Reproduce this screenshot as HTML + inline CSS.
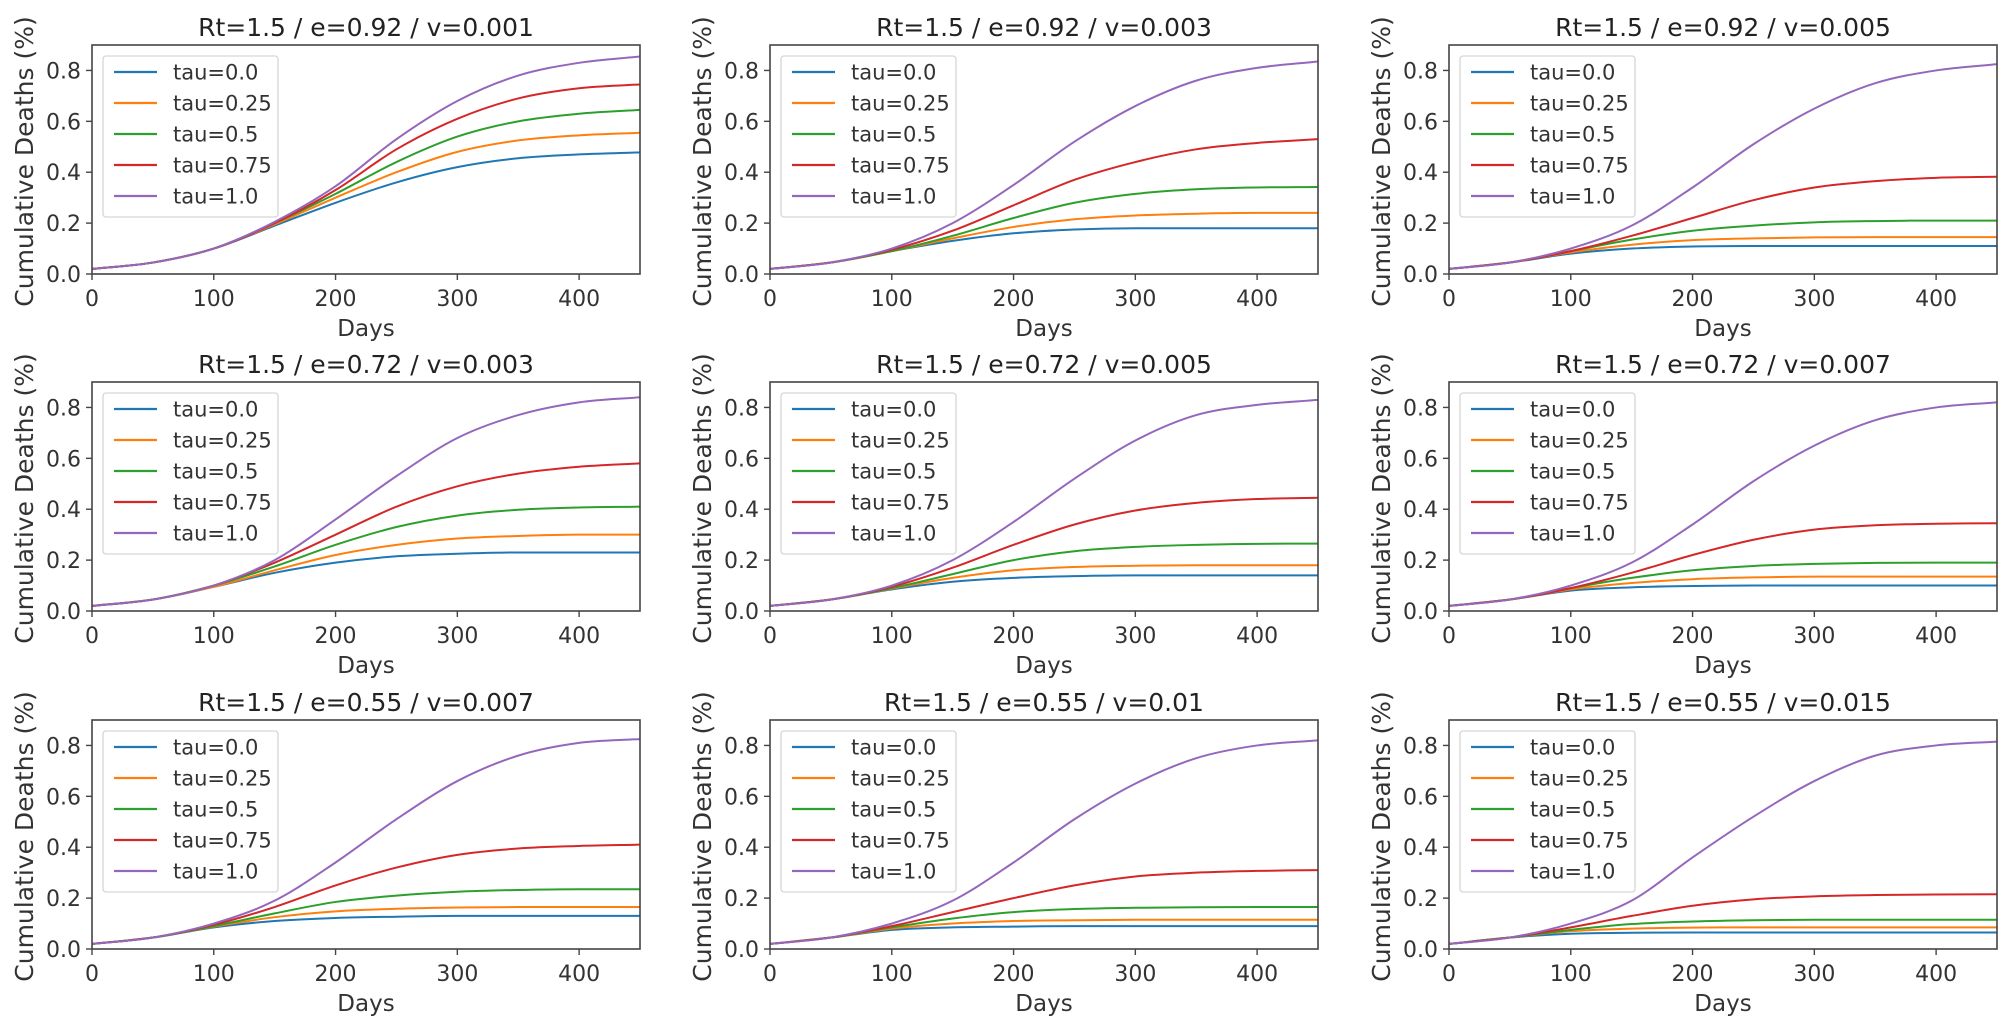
<!DOCTYPE html>
<html><head><meta charset="utf-8"><style>
html,body{margin:0;padding:0;background:#fff;}
svg{display:block;font-family:"DejaVu Sans","Liberation Sans",sans-serif;}
</style></head><body>
<svg id="fig" width="2013" height="1027" viewBox="0 0 2013 1027" xmlns="http://www.w3.org/2000/svg"></svg>
<script>
const days = [0,50,100,150,200,250,300,350,400,450];
const taus = ["tau=0.0","tau=0.25","tau=0.5","tau=0.75","tau=1.0"];
const colors = ["#1f77b4","#ff7f0e","#2ca02c","#d62728","#9467bd"];
const titles = ["Rt=1.5 / e=0.92 / v=0.001","Rt=1.5 / e=0.92 / v=0.003","Rt=1.5 / e=0.92 / v=0.005",
"Rt=1.5 / e=0.72 / v=0.003","Rt=1.5 / e=0.72 / v=0.005","Rt=1.5 / e=0.72 / v=0.007",
"Rt=1.5 / e=0.55 / v=0.007","Rt=1.5 / e=0.55 / v=0.01","Rt=1.5 / e=0.55 / v=0.015"];
const xTicks = [0,100,200,300,400];
const yTicks = [0.0,0.2,0.4,0.6,0.8];
const yTickLabels = ["0.0","0.2","0.4","0.6","0.8"];
const p1 = [[0.02,0.045,0.1,0.19,0.28,0.36,0.42,0.455,0.47,0.478],
[0.02,0.045,0.1,0.195,0.3,0.4,0.48,0.525,0.545,0.555],
[0.02,0.045,0.1,0.2,0.315,0.44,0.54,0.6,0.63,0.645],
[0.02,0.045,0.1,0.2,0.33,0.49,0.61,0.69,0.73,0.745],
[0.02,0.045,0.1,0.205,0.345,0.53,0.68,0.78,0.83,0.855]];
const p2 = [[0.02,0.045,0.09,0.13,0.16,0.175,0.18,0.18,0.18,0.18],
[0.02,0.045,0.09,0.14,0.185,0.215,0.23,0.237,0.24,0.24],
[0.02,0.045,0.09,0.15,0.22,0.28,0.315,0.333,0.34,0.342],
[0.02,0.045,0.095,0.17,0.27,0.37,0.44,0.49,0.515,0.53],
[0.02,0.045,0.1,0.2,0.35,0.52,0.66,0.76,0.81,0.835]];
const p3 = [[0.02,0.045,0.08,0.1,0.108,0.11,0.11,0.11,0.11,0.11],
[0.02,0.045,0.085,0.115,0.133,0.14,0.144,0.145,0.145,0.145],
[0.02,0.045,0.09,0.135,0.17,0.19,0.203,0.208,0.21,0.21],
[0.02,0.045,0.09,0.15,0.22,0.29,0.34,0.365,0.378,0.382],
[0.02,0.045,0.1,0.19,0.34,0.51,0.65,0.75,0.8,0.825]];
const p4 = [[0.02,0.045,0.095,0.15,0.19,0.215,0.225,0.23,0.23,0.23],
[0.02,0.045,0.095,0.16,0.22,0.26,0.285,0.295,0.3,0.3],
[0.02,0.045,0.1,0.175,0.26,0.33,0.375,0.398,0.407,0.41],
[0.02,0.045,0.1,0.19,0.3,0.41,0.49,0.54,0.567,0.58],
[0.02,0.045,0.1,0.2,0.36,0.53,0.68,0.77,0.82,0.84]];
const p5 = [[0.02,0.045,0.085,0.115,0.13,0.137,0.14,0.14,0.14,0.14],
[0.02,0.045,0.088,0.13,0.16,0.173,0.178,0.18,0.18,0.18],
[0.02,0.045,0.09,0.145,0.2,0.235,0.252,0.26,0.264,0.265],
[0.02,0.045,0.095,0.17,0.26,0.34,0.395,0.425,0.44,0.445],
[0.02,0.045,0.1,0.2,0.35,0.52,0.67,0.77,0.81,0.83]];
const p6 = [[0.02,0.045,0.08,0.093,0.098,0.1,0.1,0.1,0.1,0.1],
[0.02,0.045,0.085,0.11,0.125,0.132,0.135,0.135,0.135,0.135],
[0.02,0.045,0.09,0.13,0.16,0.177,0.185,0.189,0.19,0.19],
[0.02,0.045,0.09,0.15,0.22,0.28,0.32,0.337,0.343,0.345],
[0.02,0.045,0.1,0.19,0.34,0.51,0.65,0.75,0.8,0.82]];
const p7 = [[0.02,0.045,0.085,0.11,0.122,0.127,0.13,0.13,0.13,0.13],
[0.02,0.045,0.088,0.125,0.148,0.158,0.163,0.165,0.165,0.165],
[0.02,0.045,0.09,0.14,0.185,0.21,0.225,0.232,0.235,0.235],
[0.02,0.045,0.095,0.165,0.25,0.32,0.37,0.395,0.405,0.41],
[0.02,0.045,0.1,0.19,0.34,0.51,0.66,0.76,0.81,0.825]];
const p8 = [[0.02,0.045,0.075,0.085,0.088,0.09,0.09,0.09,0.09,0.09],
[0.02,0.045,0.08,0.1,0.11,0.113,0.115,0.115,0.115,0.115],
[0.02,0.045,0.085,0.12,0.145,0.157,0.162,0.164,0.165,0.165],
[0.02,0.045,0.09,0.145,0.2,0.25,0.285,0.3,0.307,0.31],
[0.02,0.045,0.1,0.19,0.34,0.51,0.65,0.75,0.8,0.82]];
const p9 = [[0.02,0.045,0.06,0.064,0.065,0.065,0.065,0.065,0.065,0.065],
[0.02,0.045,0.07,0.08,0.084,0.085,0.085,0.085,0.085,0.085],
[0.02,0.045,0.075,0.098,0.108,0.113,0.115,0.115,0.115,0.115],
[0.02,0.045,0.085,0.13,0.17,0.195,0.207,0.212,0.214,0.215],
[0.02,0.045,0.1,0.19,0.36,0.52,0.66,0.76,0.8,0.815]];
const panels = [p1,p2,p3,p4,p5,p6,p7,p8,p9];

const NS = "http://www.w3.org/2000/svg";
const svg = document.getElementById("fig");
const colX = [92,770,1449], rowY = [45,382,720];
const W = 548, H = 229, XMAX = 450, YMIN = 0, YMAX = 0.9;
function mk(tag, attrs, parent){ const e=document.createElementNS(NS,tag); for(const k in attrs) e.setAttribute(k,attrs[k]); (parent||svg).appendChild(e); return e; }
function smooth(pts){
  // monotone cubic (Fritsch-Carlson) for smooth S-curves
  const n=pts.length, dx=[], dy=[], m=[], t=[];
  for(let i=0;i<n-1;i++){ dx[i]=pts[i+1][0]-pts[i][0]; dy[i]=pts[i+1][1]-pts[i][1]; m[i]=dy[i]/dx[i]; }
  t[0]=m[0]; t[n-1]=m[n-2];
  for(let i=1;i<n-1;i++){ t[i] = (m[i-1]*m[i]<=0)?0:(m[i-1]+m[i])/2; }
  for(let i=0;i<n-1;i++){ if(m[i]===0){t[i]=0;t[i+1]=0;continue;} const a=t[i]/m[i], b=t[i+1]/m[i], s=a*a+b*b; if(s>9){const k=3/Math.sqrt(s); t[i]=k*a*m[i]; t[i+1]=k*b*m[i];} }
  let d = "M"+pts[0][0].toFixed(2)+","+pts[0][1].toFixed(2);
  for(let i=0;i<n-1;i++){
    const h=dx[i]/3;
    d += " C"+(pts[i][0]+h).toFixed(2)+","+(pts[i][1]+t[i]*h).toFixed(2)+" "+(pts[i+1][0]-h).toFixed(2)+","+(pts[i+1][1]-t[i+1]*h).toFixed(2)+" "+pts[i+1][0].toFixed(2)+","+pts[i+1][1].toFixed(2);
  }
  return d;
}
panels.forEach((series, pi) => {
  const L = colX[pi%3], T = rowY[Math.floor(pi/3)], B = T+H;
  const xs = v => L + v/XMAX*W;
  const ys = v => B - (v-YMIN)/(YMAX-YMIN)*H;
  const g = mk("g",{});
  
  
  const clipId = "clip"+pi;
  const cp = mk("clipPath",{id:clipId},g); mk("rect",{x:L,y:T,width:W,height:H},cp);
  const lines = mk("g",{"clip-path":"url(#"+clipId+")"},g);
  series.forEach((vals, si) => {
    const pts = days.map((d,i)=>[xs(d), ys(vals[i])]);
    const path = mk("path",{d:smooth(pts),fill:"none",stroke:colors[si],"stroke-width":2},lines);
    
    
  });
  const frame = mk("rect",{x:L,y:T,width:W,height:H,fill:"none",stroke:"#444","stroke-width":1.6},g);
  
  
  xTicks.forEach(t => {
    const x = xs(t);
    mk("line",{x1:x,y1:B,x2:x,y2:B+6,stroke:"#444","stroke-width":1.4},g);
    const tl = mk("text",{x:x,y:B+32,"text-anchor":"middle","font-size":22,fill:"#333"},g);
    tl.textContent = String(t);
    
    
  });
  yTicks.forEach((t,i) => {
    const y = ys(t);
    mk("line",{x1:L-6,y1:y,x2:L,y2:y,stroke:"#444","stroke-width":1.4},g);
    const tl = mk("text",{x:L-11,y:y+8,"text-anchor":"end","font-size":22,fill:"#333"},g);
    tl.textContent = yTickLabels[i];
    
    
  });
  const xl = mk("text",{x:L+W/2,y:B+62,"text-anchor":"middle","font-size":23,fill:"#333"},g);
  xl.textContent = "Days";
  
  
  const yl = mk("text",{x:0,y:0,"text-anchor":"middle","font-size":25,fill:"#333",transform:"translate("+(L-59)+","+(T+H/2+2)+") rotate(-90)"},g);
  yl.textContent = "Cumulative Deaths (%)";
  
  
  const tt = mk("text",{x:L+W/2,y:T-9,"text-anchor":"middle","font-size":25,fill:"#222"},g);
  tt.textContent = titles[pi];
  
  
  const lg = mk("g",{},g);
  
  
  mk("rect",{x:L+11,y:T+11,width:175,height:161,rx:3,fill:"#fff","fill-opacity":0.85,stroke:"#d6d6d6","stroke-width":1.3},lg);
  taus.forEach((lab,si) => {
    const cy = T+27+31*si;
    const ent = mk("g",{},lg);
    
    
    mk("line",{x1:L+22,y1:cy,x2:L+65,y2:cy,stroke:colors[si],"stroke-width":2.2},ent);
    const t = mk("text",{x:L+81,y:cy+7.5,"font-size":21,fill:"#333"},ent);
    t.textContent = lab;
  });
});
</script>
</body></html>
